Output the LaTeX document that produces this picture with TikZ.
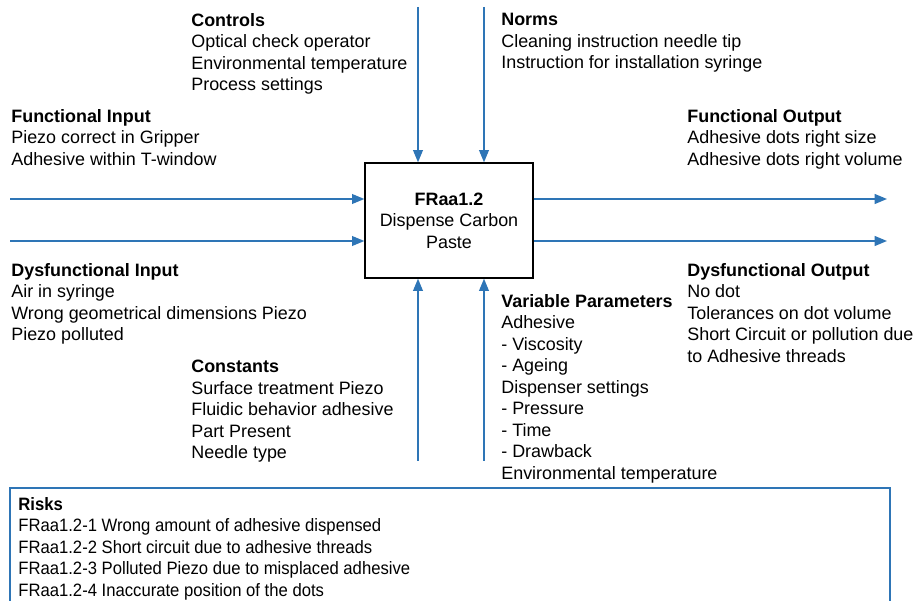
\documentclass[tikz,border=0pt]{standalone}
\usepackage{fontspec}
\setmainfont{Liberation Sans}
\newfontfamily\riskfont[FakeStretch=0.93]{Liberation Sans}
\usepackage{xcolor}
\definecolor{cFlow}{HTML}{2E75B6}
\definecolor{cEdge}{HTML}{000000}
\usetikzlibrary{arrows.meta}
\tikzset{
  node-func/.style={draw=cEdge,line width=0.8pt,minimum width=3.36cm,
    minimum height=2.3cm,align=center},
  node-label/.style={anchor=north west,inner sep=0pt,align=left},
  arrow/.style={-{Triangle[length=7pt,width=5.6pt]},line width=0.8pt,draw=cFlow},
  risk-frame/.style={line width=0.8pt,draw=cFlow},
}

\begin{document}
\begin{tikzpicture}[x=0.02cm,y=-0.02cm,font=\fontsize{10.2pt}{12.25pt}\selectfont]
  \useasboundingbox (0,0) rectangle (914,601);
  % function block
  \node[node-func] (fn) at (449,220.5) {\textbf{FRaa1.2}\\Dispense Carbon\\Paste};

  % labels round the block
  \node[node-label] (ctrl-txt)  at (191,13)  {\textbf{Controls}\\Optical check operator\\Environmental temperature\\Process settings};
  \node[node-label] (norm-txt)  at (501,13)  {\textbf{Norms}\\Cleaning instruction needle tip\\Instruction for installation syringe};
  \node[node-label] (fin-txt)   at (11,109)  {\textbf{Functional Input}\\Piezo correct in Gripper\\Adhesive within T-window};
  \node[node-label] (fout-txt)  at (687,109) {\textbf{Functional Output}\\Adhesive dots right size\\Adhesive dots right volume};
  \node[node-label] (din-txt)   at (11,263)  {\textbf{Dysfunctional Input}\\Air in syringe\\Wrong geometrical dimensions Piezo\\Piezo polluted};
  \node[node-label] (dout-txt)  at (687,263) {\textbf{Dysfunctional Output}\\No dot\\Tolerances on dot volume\\Short Circuit or pollution due\\to Adhesive threads};
  \node[node-label] (var-txt)   at (501,294) {\textbf{Variable Parameters}\\Adhesive\\- Viscosity\\- Ageing\\Dispenser settings\\- Pressure\\- Time\\- Drawback\\Environmental temperature};
  \node[node-label] (const-txt) at (191,360) {\textbf{Constants}\\Surface treatment Piezo\\Fluidic behavior adhesive\\Part Present\\Needle type};

  % flow ends
  \coordinate (in-ok)   at (10,199);
  \coordinate (in-bad)  at (10,241);
  \coordinate (out-ok)  at (887,199);
  \coordinate (out-bad) at (887,241);
  \coordinate (ctrl)    at (418,7);
  \coordinate (norm)    at (484,7);
  \coordinate (const)   at (418,461);
  \coordinate (var)     at (484,461);

  \draw[arrow] (in-ok) -- (in-ok -| fn.west);
  \draw[arrow] (in-bad) -- (in-bad -| fn.west);
  \draw[arrow] (out-ok -| fn.east) -- (out-ok);
  \draw[arrow] (out-bad -| fn.east) -- (out-bad);
  \draw[arrow] (ctrl) -- (ctrl |- fn.north);
  \draw[arrow] (norm) -- (norm |- fn.north);
  \draw[arrow] (const) -- (const |- fn.south);
  \draw[arrow] (var) -- (var |- fn.south);

  % risks
  \draw[risk-frame] (10,601) |- (890,488) -- (890,601);
  \node[node-label,font=\riskfont\fontsize{10.2pt}{12.25pt}\selectfont] (risk-txt) at (18,497) {\textbf{Risks}\\FRaa1.2-1 Wrong amount of adhesive dispensed\\FRaa1.2-2 Short circuit due to adhesive threads\\FRaa1.2-3 Polluted Piezo due to misplaced adhesive\\FRaa1.2-4 Inaccurate position of the dots};
\end{tikzpicture}
\end{document}
